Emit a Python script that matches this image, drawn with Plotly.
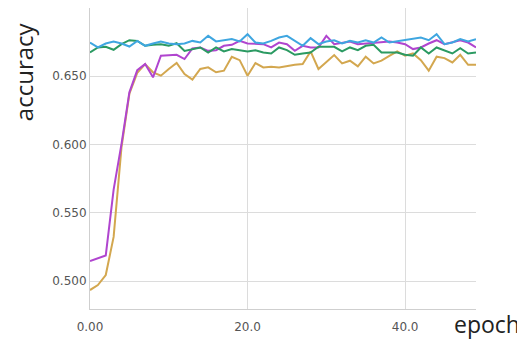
import plotly.graph_objects as go

epochs = list(range(50))

blue = [0.6747, 0.6711, 0.6740, 0.6755, 0.6740, 0.6718, 0.6759, 0.6723, 0.6740, 0.6755,
        0.6740, 0.6735, 0.6740, 0.6759, 0.6747, 0.6796, 0.6755, 0.6764, 0.6772, 0.6755,
        0.6808, 0.6747, 0.6740, 0.6759, 0.6784, 0.6796, 0.6759, 0.6723, 0.6779, 0.6735,
        0.6755, 0.6764, 0.6740, 0.6759, 0.6747, 0.6764, 0.6747, 0.6784, 0.6747, 0.6755,
        0.6764, 0.6772, 0.6784, 0.6764, 0.6808, 0.6735, 0.6747, 0.6772, 0.6755, 0.6772]

green = [0.6674, 0.6711, 0.6716, 0.6694, 0.6735, 0.6764, 0.6759, 0.6723, 0.6730, 0.6735,
         0.6723, 0.6742, 0.6686, 0.6699, 0.6711, 0.6674, 0.6711, 0.6682, 0.6699, 0.6691,
         0.6682, 0.6691, 0.6674, 0.6667, 0.6711, 0.6691, 0.6657, 0.6667, 0.6674, 0.6716,
         0.6716, 0.6716, 0.6682, 0.6711, 0.6691, 0.6723, 0.6730, 0.6674, 0.6674, 0.6674,
         0.6657, 0.6650, 0.6711, 0.6667, 0.6711, 0.6691, 0.6667, 0.6706, 0.6667, 0.6674]

magenta = [0.5146, 0.5165, 0.5187, 0.5670, 0.6005, 0.6382, 0.6545, 0.6589, 0.6492, 0.6650,
           0.6655, 0.6657, 0.6626, 0.6704, 0.6711, 0.6686, 0.6691, 0.6723, 0.6730, 0.6759,
           0.6740, 0.6735, 0.6735, 0.6711, 0.6747, 0.6735, 0.6686, 0.6723, 0.6711, 0.6711,
           0.6796, 0.6735, 0.6747, 0.6755, 0.6735, 0.6740, 0.6740, 0.6747, 0.6755, 0.6747,
           0.6735, 0.6699, 0.6711, 0.6740, 0.6764, 0.6735, 0.6747, 0.6764, 0.6747, 0.6711]

gold = [0.4934, 0.4970, 0.5044, 0.5323, 0.5980, 0.6372, 0.6525, 0.6589, 0.6529, 0.6504,
        0.6553, 0.6597, 0.6516, 0.6475, 0.6553, 0.6565, 0.6529, 0.6541, 0.6643, 0.6618,
        0.6504, 0.6597, 0.6565, 0.6570, 0.6565, 0.6577, 0.6584, 0.6589, 0.6682, 0.6553,
        0.6601, 0.6655, 0.6594, 0.6614, 0.6572, 0.6643, 0.6594, 0.6614, 0.6650, 0.6682,
        0.6650, 0.6667, 0.6618, 0.6541, 0.6643, 0.6633, 0.6601, 0.6657, 0.6584, 0.6584]

x_tickvals = [0, 20, 40]
x_ticktext = ["0.00", "20.0", "40.0"]
y_tickvals = [0.50, 0.55, 0.60, 0.65]
y_ticktext = ["0.500", "0.550", "0.600", "0.650"]

series = [
    ("gold", gold, "#d3a74f"),
    ("magenta", magenta, "#b045cf"),
    ("green", green, "#2b9a62"),
    ("blue", blue, "#3fa6e0"),
]

fig = go.Figure()
for name, vals, color in series:
    fig.add_trace(go.Scatter(x=epochs, y=vals, mode="lines", name=name,
                             line=dict(color=color, width=2)))

tick_font = dict(family="DejaVu Sans, sans-serif", size=12, color="#555")
title_font = dict(family="Open Sans, sans-serif", size=24, color="#222")

# The page has an 8px body margin, so the figure is sized 8px smaller
fig.update_layout(
    width=517, height=333,
    margin=dict(l=82, r=49, t=0, b=32, autoexpand=False),
    paper_bgcolor="white", plot_bgcolor="white",
    showlegend=False,
    font=tick_font,
    xaxis=dict(range=[0, 49], tickvals=x_tickvals, ticktext=x_ticktext,
               showgrid=True, gridcolor="#dcdcdc", gridwidth=1,
               showline=True, linecolor="#cfcfcf", linewidth=1,
               zeroline=False, ticks="", ticklabelstandoff=7, tickfont=tick_font),
    yaxis=dict(range=[0.4795, 0.70], tickvals=y_tickvals, ticktext=y_ticktext,
               showgrid=True, gridcolor="#dcdcdc", gridwidth=1,
               showline=True, linecolor="#cfcfcf", linewidth=1,
               zeroline=False, ticks="", tickfont=tick_font),
    annotations=[
        dict(text="accuracy", xref="paper", yref="paper", x=-0.172, y=0.96,
             xanchor="center", yanchor="top", textangle=-90, showarrow=False,
             font=title_font),
        dict(text="epoch", xref="paper", yref="paper", x=1.117, y=0.008,
             xanchor="right", yanchor="top", showarrow=False, borderpad=0,
             font=dict(family="Open Sans, sans-serif", size=23, color="#222")),
    ],
)

fig.write_html("out.html")
